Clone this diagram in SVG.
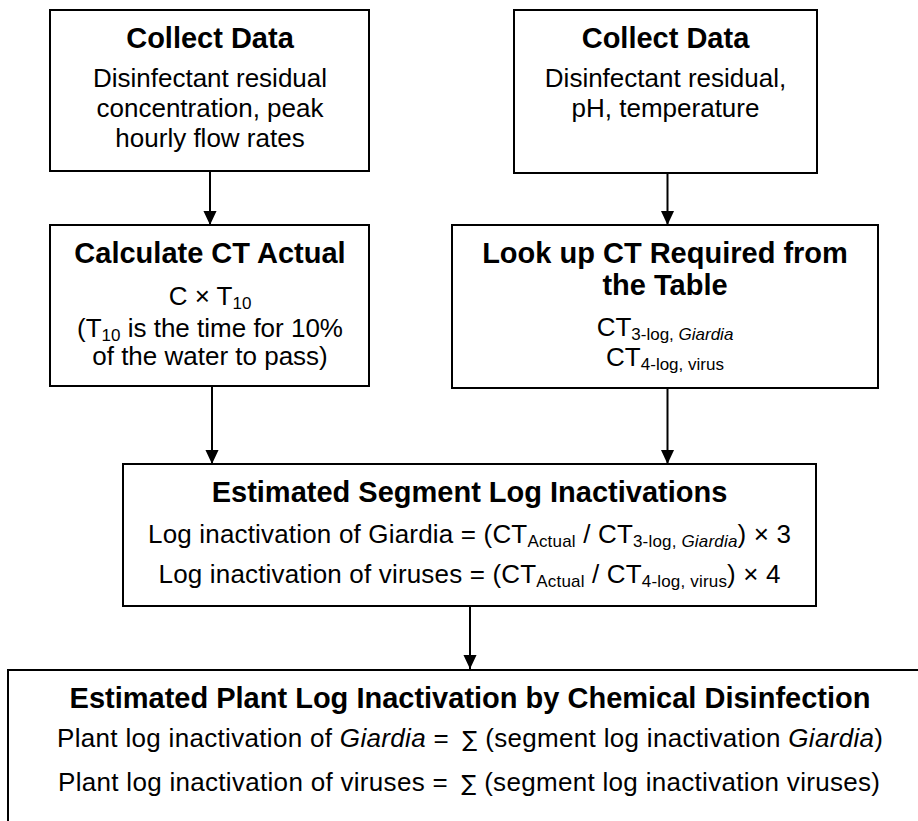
<svg xmlns="http://www.w3.org/2000/svg" width="918" height="821" viewBox="0 0 918 821">
  <defs>
    <style>
      .box { fill: #ffffff; stroke: #000000; stroke-width: 2; }
      .link { fill: none; stroke: #000000; stroke-width: 2; }
      text { font-family: "Liberation Sans", Arial, sans-serif; fill: #000000; text-anchor: middle; }
      .title { font-size: 29px; font-weight: bold; }
      .body { font-size: 26px; }
      .sub { font-size: 17px; }
      .it { font-style: italic; }
      .sym { font-family: "DejaVu Sans", "Liberation Sans", sans-serif; font-size: 22px; }
    </style>
    <marker id="arrow" markerUnits="userSpaceOnUse" markerWidth="14" markerHeight="14" refX="15" refY="7" orient="auto" viewBox="0 0 15 14">
      <path d="M0,0 L15,7 L0,14 z" fill="#000000"/>
    </marker>
  </defs>

  <rect width="918" height="821" fill="#ffffff"/>

  <!-- connectors -->
  <g id="connectors">
    <line class="link" x1="210" y1="171" x2="210" y2="225" marker-end="url(#arrow)"/>
    <line class="link" x1="667.5" y1="173" x2="667.5" y2="225" marker-end="url(#arrow)"/>
    <line class="link" x1="212" y1="386" x2="212" y2="464" marker-end="url(#arrow)"/>
    <line class="link" x1="667.5" y1="388" x2="667.5" y2="464" marker-end="url(#arrow)"/>
    <line class="link" x1="470" y1="606" x2="470" y2="669" marker-end="url(#arrow)"/>
  </g>

  <!-- collect data: flow -->
  <g id="collect-flow">
    <rect class="box" x="50" y="10" width="319" height="161"/>
    <text class="title" x="210" y="48">Collect Data</text>
    <text class="body" x="210" y="87">Disinfectant residual</text>
    <text class="body" x="210" y="117">concentration, peak</text>
    <text class="body" x="210" y="147">hourly flow rates</text>
  </g>

  <!-- collect data: chemistry -->
  <g id="collect-chem">
    <rect class="box" x="514" y="10" width="303" height="163"/>
    <text class="title" x="665.5" y="48">Collect Data</text>
    <text class="body" x="665.5" y="87">Disinfectant residual,</text>
    <text class="body" x="665.5" y="117">pH, temperature</text>
  </g>

  <!-- CT actual -->
  <g id="ct-actual">
    <rect class="box" x="50" y="225" width="319" height="161"/>
    <text class="title" x="210" y="263">Calculate CT Actual</text>
    <text class="body" x="210" y="305">C × T<tspan class="sub" dy="4">10</tspan></text>
    <text class="body" x="210" y="337">(T<tspan class="sub" dy="4">10</tspan><tspan dy="-4"> is the time for 10%</tspan></text>
    <text class="body" x="210" y="365">of the water to pass)</text>
  </g>

  <!-- CT required -->
  <g id="ct-required">
    <rect class="box" x="452" y="225" width="426" height="163"/>
    <text class="title" x="665" y="263">Look up CT Required from</text>
    <text class="title" x="665" y="295">the Table</text>
    <text class="body" x="665" y="336">CT<tspan class="sub" dy="4">3-log, </tspan><tspan class="sub it">Giardia</tspan></text>
    <text class="body" x="665" y="366">CT<tspan class="sub" dy="4">4-log, virus</tspan></text>
  </g>

  <!-- segment log inactivations -->
  <g id="segment">
    <rect class="box" x="123" y="464" width="693" height="142"/>
    <text class="title" x="469.5" y="502">Estimated Segment Log Inactivations</text>
    <text class="body" x="469.5" y="543" textLength="643" lengthAdjust="spacing">Log inactivation of Giardia = (CT<tspan class="sub" dy="4">Actual</tspan><tspan dy="-4"> / CT</tspan><tspan class="sub" dy="4">3-log, </tspan><tspan class="sub it">Giardia</tspan><tspan dy="-4">) × 3</tspan></text>
    <text class="body" x="469.5" y="583" textLength="622" lengthAdjust="spacing">Log inactivation of viruses = (CT<tspan class="sub" dy="4">Actual</tspan><tspan dy="-4"> / CT</tspan><tspan class="sub" dy="4">4-log, virus</tspan><tspan dy="-4">) × 4</tspan></text>
  </g>

  <!-- plant log inactivation -->
  <g id="plant">
    <rect class="box" x="8" y="670" width="930" height="180"/>
    <text class="title" x="470" y="708">Estimated Plant Log Inactivation by Chemical Disinfection</text>
    <text class="body" x="470" y="747" textLength="826" lengthAdjust="spacing">Plant log inactivation of <tspan class="it">Giardia</tspan> = <tspan class="sym" dx="6">∑</tspan> (segment log inactivation <tspan class="it">Giardia</tspan>)</text>
    <text class="body" x="469" y="791" textLength="822" lengthAdjust="spacing">Plant log inactivation of viruses = <tspan class="sym" dx="6">∑</tspan> (segment log inactivation viruses)</text>
  </g>
</svg>
